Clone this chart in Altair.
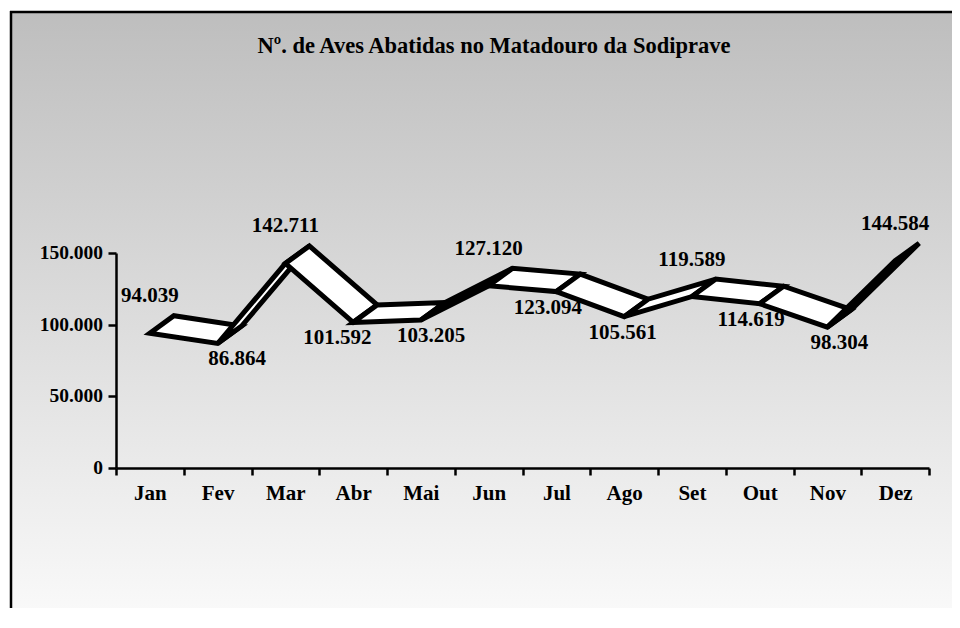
import json
import altair as alt
import pandas as pd

# ---- data ----
months = ["Jan", "Fev", "Mar", "Abr", "Mai", "Jun", "Jul", "Ago", "Set", "Out", "Nov", "Dez"]
values = [94039, 86864, 142711, 101592, 103205, 127120, 123094, 105561, 119589, 114619, 98304, 144584]
y_ticks = [0, 50000, 100000, 150000]
title_text = "Nº. de Aves Abatidas no Matadouro da Sodiprave"

# ---- layout / style ----
W, H = 813, 215
YMAX = 150000
FONT = "Liberation Serif"
BAND = W / len(months)
DEPTH_PX_X, DEPTH_PX_Y = 24, 17.5           # 3-D ribbon depth in pixels
dx_units = DEPTH_PX_X / BAND
dy_units = DEPTH_PX_Y / H * YMAX


def pt_format(v):
    return f"{v:,}".replace(",", ".")


# ribbon polygons (front edge at the value, back edge shifted by depth)
rows = []
for i in range(len(values) - 1):
    xa, xb = i + 0.5, i + 1.5
    va, vb = values[i], values[i + 1]
    quad = [(xa, va), (xb, vb), (xb + dx_units, vb + dy_units), (xa + dx_units, va + dy_units)]
    for k, (x, y) in enumerate(quad):
        rows.append({"seg": f"s{i:02d}", "k": k, "x": x, "y": y})
poly = pd.DataFrame(rows)

# data labels: above local maxima, below otherwise; below-labels drift toward the higher neighbour
lab_rows = []
for i, v in enumerate(values):
    left = values[i - 1] if i > 0 else v
    right = values[i + 1] if i < len(values) - 1 else v
    is_above = (i == 0 or v > left) and (i == len(values) - 1 or v > right)
    shift_px = 0 if is_above else max(-22, min(20, 0.4 * (right - left) / 1000))
    lab_rows.append({
        "x": i + 0.5 + shift_px / BAND,
        "y": v,
        "label": pt_format(v),
        "above": is_above,
    })
labs = pd.DataFrame(lab_rows)

ytick_df = pd.DataFrame({"y": y_ticks, "label": [pt_format(v) for v in y_ticks]})

months_js = json.dumps(months)

x_scale = alt.Scale(domain=[0, len(months)], nice=False, zero=False)
y_scale = alt.Scale(domain=[0, YMAX], nice=False)

axis_common = dict(
    labelFont=FONT,
    labelFontWeight="bold",
    labelColor="black",
    tickColor="black",
    tickWidth=2.5,
    domainColor="black",
    domainWidth=2.5,
    grid=False,
    title=None,
    zindex=1,
)

x_enc = alt.X(
    "x:Q",
    scale=x_scale,
    axis=alt.Axis(
        values=list(range(len(months) + 1)),
        labelExpr=f"datum.value < {len(months)} ? {months_js}[datum.value] : ''",
        labelOffset=BAND / 2,
        labelAlign="center",
        labelBaseline="top",
        labelFlush=False,
        labelOverlap=False,
        labelBound=False,
        labelFontSize=21,
        labelPadding=7,
        tickSize=7,
        **axis_common,
    ),
)
y_enc = alt.Y(
    "y:Q",
    scale=y_scale,
    axis=alt.Axis(
        values=y_ticks,
        labels=False,
        tickSize=8,
        **axis_common,
    ),
)

one = pd.DataFrame({"a": [0]})

bg = alt.Chart(one).mark_rect(
    fill=alt.Gradient(
        gradient="linear",
        stops=[alt.GradientStop(color="#bebebe", offset=0), alt.GradientStop(color="#ffffff", offset=1)],
        x1=0, x2=0, y1=0, y2=1,
    ),
    strokeWidth=0,
).encode(x=alt.value(-105), x2=alt.value(836), y=alt.value(-241), y2=alt.value(420))

border_top = alt.Chart(one).mark_rule(color="black", strokeWidth=2.5).encode(
    x=alt.value(-106), x2=alt.value(836), y=alt.value(-241)
)
border_left = alt.Chart(one).mark_rule(color="black", strokeWidth=2.5).encode(
    x=alt.value(-105), y=alt.value(-242), y2=alt.value(420)
)

ribbon = alt.Chart(poly).mark_line(
    interpolate="linear-closed",
    fill="white",
    stroke="black",
    strokeWidth=5,
    strokeJoin="miter",
).encode(x=x_enc, y=y_enc, detail="seg:N", order="k:Q")

text_style = dict(font=FONT, fontWeight="bold", color="black", fontSize=21, align="center", baseline="middle")

labels_above = alt.Chart(labs).transform_filter("datum.above").mark_text(dy=-37, **text_style).encode(
    x=x_enc, y=y_enc, text="label:N"
)
labels_below = alt.Chart(labs).transform_filter("!datum.above").mark_text(dy=16, **text_style).encode(
    x=x_enc, y=y_enc, text="label:N"
)

y_labels = alt.Chart(ytick_df).mark_text(
    font=FONT, fontWeight="bold", color="black", fontSize=19.5, align="right", baseline="middle"
).encode(x=alt.value(-13), y=y_enc, text="label:N")

title = alt.Chart(pd.DataFrame({"t": [title_text]})).mark_text(
    font=FONT, fontWeight="bold", color="black", fontSize=22.5, align="center", baseline="alphabetic"
).encode(text="t:N", x=alt.value(378), y=alt.value(-200))

chart = alt.layer(bg, border_top, border_left, ribbon, labels_above, labels_below, y_labels, title).properties(
    width=W,
    height=H,
    autosize=alt.AutoSizeParams(type="none"),
    padding={"left": 108, "top": 245, "right": 23, "bottom": 140},
).configure_view(stroke=None).configure(background="white")

chart.save("out.html", embed_options={"renderer": "svg", "actions": False})
